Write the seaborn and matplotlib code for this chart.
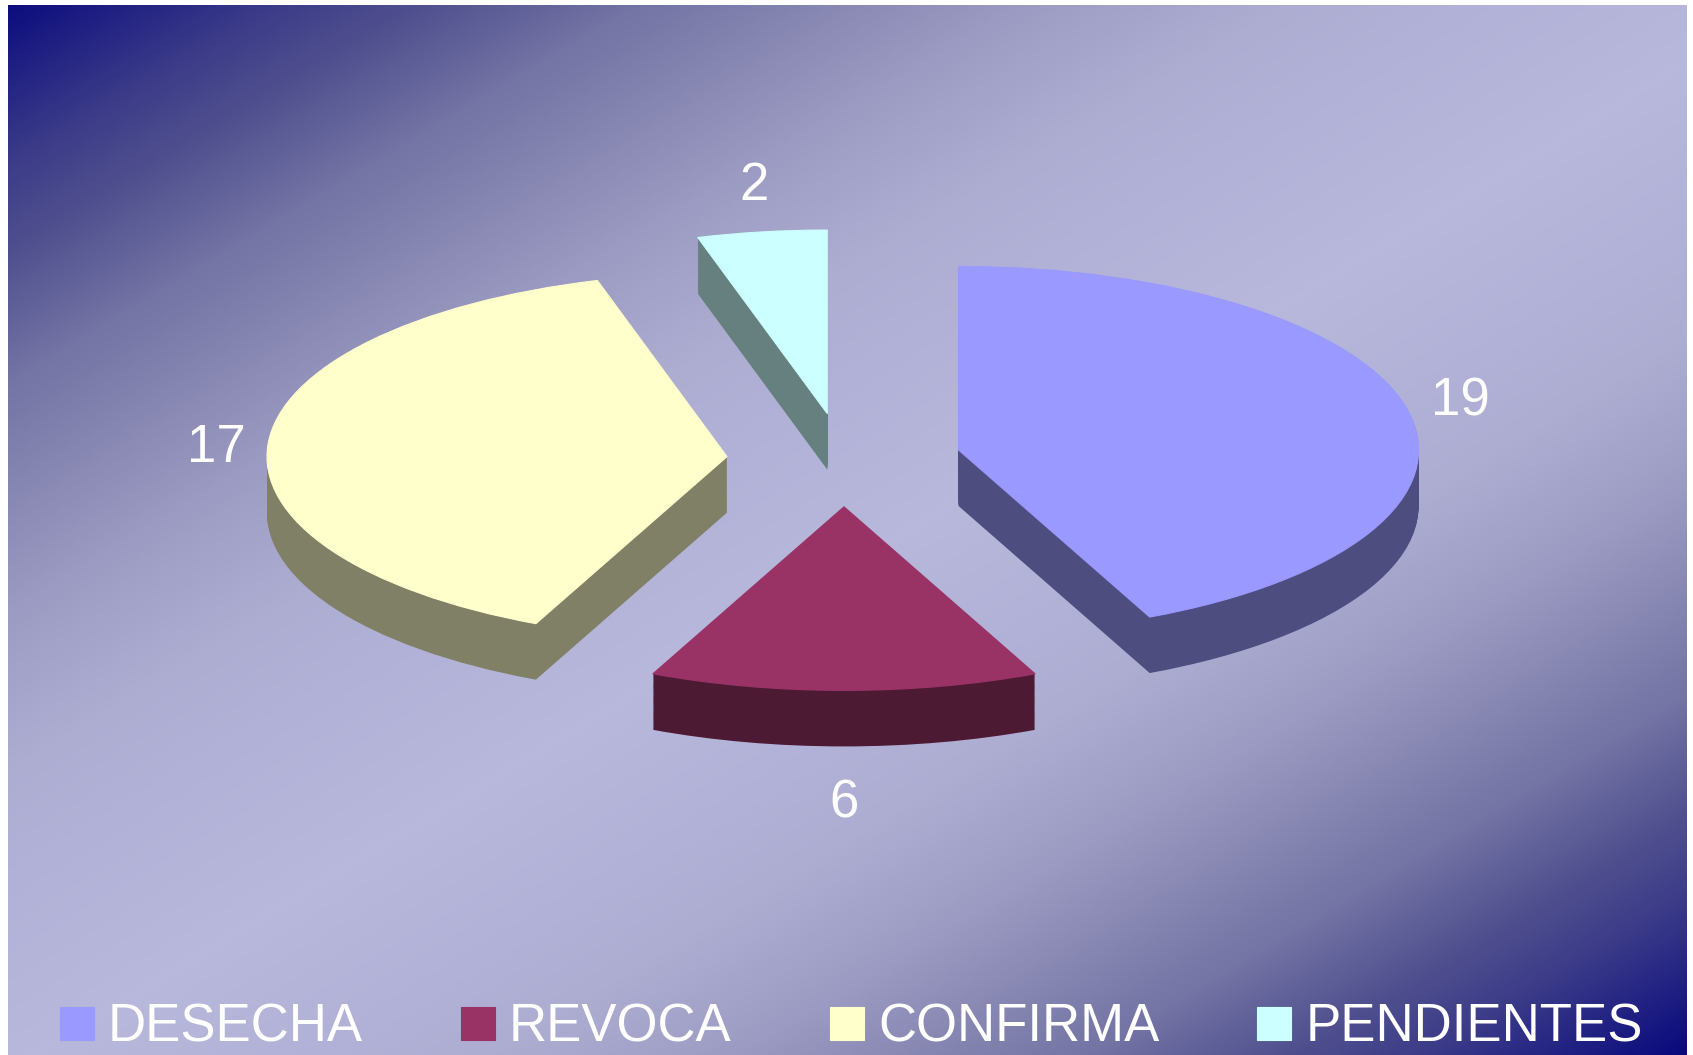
#!/usr/bin/env python3

import numpy as np
import matplotlib
matplotlib.use('Agg')
import matplotlib.pyplot as plt
from matplotlib.colors import LinearSegmentedColormap
import seaborn as sns

categories = ['DESECHA', 'REVOCA', 'CONFIRMA', 'PENDIENTES']
values = [19, 6, 17, 2]
top_colors = ['#9999FF', '#993366', '#FFFFCC', '#CCFFFF']

sns.set_theme(style='white')
plt.rcParams['font.family'] = ['Liberation Sans', 'DejaVu Sans']

W, H = 1693, 1055
fig = plt.figure(figsize=(W / 100, H / 100), dpi=100, facecolor='white')

# Achtergrond: diagonaal verloop, donker in twee hoeken
left, right, top = 8, 1687, 5
bg = fig.add_axes([left / W, 0, (right - left) / W, (H - top) / H])
xx, yy = np.meshgrid(np.linspace(left, right, 800), np.linspace(top, H, 500))
s = xx / 1792 + yy / 1075
shade = np.where(s <= 1, s, 1 - (s - 1) / 0.92)
stops = [(0, '#0A0A7E'), (0.15, '#3A3A88'), (0.24, '#50508F'), (0.36, '#7474A5'),
         (0.48, '#8A8AB5'), (0.6, '#9F9FC6'), (0.72, '#ADADD2'), (0.84, '#B2B2D8'),
         (1, '#B8B8DC')]
cmap = LinearSegmentedColormap.from_list('bg', stops)
bg.imshow(shade, cmap=cmap, aspect='auto', vmin=0, vmax=1, interpolation='bilinear')
bg.axis('off')

# Taart in platte perspectief: zijkant eerst, bovenkant erop
ax = fig.add_axes([0, 0, 1, 1])
ax.patch.set_alpha(0)
palette = sns.color_palette(top_colors)
side_colors = [tuple(c * 0.5 for c in col) for col in palette]
explode = [0.255] * len(values)
depth = 0.305

for off in np.linspace(-depth, -0.005, 60):
    ax.pie(values, colors=side_colors, explode=explode, startangle=90, counterclock=False,
           center=(0, off), wedgeprops={'linewidth': 0})
wedges, _ = ax.pie(values, colors=palette, explode=explode, startangle=90, counterclock=False)
for wedge, col in zip(wedges, palette):
    wedge.set_edgecolor(col)
    wedge.set_linewidth(0.8)

cx, cy, rx, ry = 844, 460, 460, 183.6
ax.set_aspect('auto')
ax.set_xlim(-cx / rx, (W - cx) / rx)
ax.set_ylim(-(H - cy) / ry, cy / ry)

# Waarden naast de stukken
label_pos = [(1460, 402), (844, 803), (216, 448), (754, 186)]
for val, (px, py) in zip(values, label_pos):
    fig.text(px / W, 1 - py / H, str(val), color='white', fontsize=38, ha='center', va='center')

ax.legend(wedges, categories, ncols=4, frameon=False, fontsize=38, labelcolor='white',
          loc='lower left', bbox_to_anchor=(60 / W, 2 / H), bbox_transform=fig.transFigure,
          handlelength=0.644, handleheight=0.6, handletextpad=0.265, columnspacing=1.86,
          borderpad=0, borderaxespad=0)

plt.savefig('out.png', dpi=100)
